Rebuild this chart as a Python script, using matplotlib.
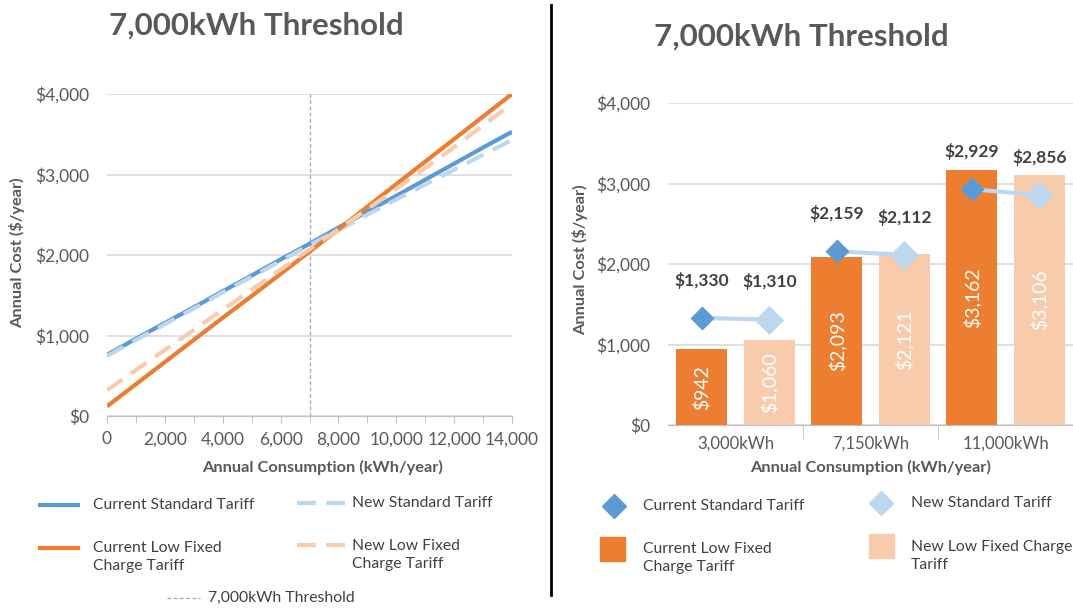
import numpy as np
import matplotlib.pyplot as plt
from matplotlib.lines import Line2D
from matplotlib.patches import Rectangle
from matplotlib.ticker import FuncFormatter, MultipleLocator

plt.rcParams['font.family'] = ['Lato', 'DejaVu Sans']

# left chart: annual cost vs consumption
kwh = [0, 1000, 2000, 3000, 4000, 5000, 6000, 7000, 8000, 9000, 10000, 11000, 12000, 13000, 14000]
current_std = [760, 960, 1155, 1350, 1550, 1745, 1945, 2140, 2340, 2540, 2735, 2935, 3135, 3335, 3530]
new_std = [745, 945, 1140, 1335, 1535, 1730, 1925, 2125, 2310, 2500, 2690, 2875, 3060, 3245, 3430]
current_low = [120, 395, 670, 945, 1220, 1490, 1765, 2040, 2320, 2600, 2880, 3160, 3440, 3720, 4000]
new_low = [320, 570, 820, 1070, 1320, 1570, 1820, 2070, 2320, 2570, 2820, 3080, 3340, 3610, 3880]
threshold = 7000

# right chart: three consumption levels
levels = ['3,000kWh', '7,150kWh', '11,000kWh']
bar_current_low = [942, 2093, 3162]
bar_new_low = [1060, 2121, 3106]
pt_current_std = [1330, 2159, 2929]
pt_new_std = [1310, 2112, 2856]

c_blue = '#5B9BD5'
c_lblue = '#BDD7EE'
c_orange = '#ED7D31'
c_peach = '#F8CBAD'
c_grey = '#595959'
c_grid = '#D9D9D9'

W, H = 1073, 608
fig = plt.figure(figsize=(W / 100, H / 100), dpi=100)


def fx(px):
    return px / W


def fy(py):
    return 1 - py / H


money = FuncFormatter(lambda v, p: '${:,.0f}'.format(v))
tick_fs = 12.5
lab_fs = 11.8
title_fs = 22.5

# ---------------- left chart ----------------
ax1 = fig.add_axes([fx(107), fy(416), fx(512) - fx(107), fy(94) - fy(416)])
ax1.plot(kwh, current_std, color=c_blue, lw=3, solid_capstyle='butt')
ax1.plot(kwh, new_std, color=c_lblue, lw=3, dashes=(4.5, 2.5))
ax1.plot(kwh, current_low, color=c_orange, lw=3, solid_capstyle='butt')
ax1.plot(kwh, new_low, color=c_peach, lw=3, dashes=(4.5, 2.5))
ax1.axvline(threshold, color='#A6A6A6', lw=0.9, ls=(0, (3, 2)), zorder=1)
ax1.set_xlim(0, 14000)
ax1.set_ylim(0, 4000)
ax1.yaxis.set_major_locator(MultipleLocator(1000))
ax1.yaxis.set_major_formatter(money)
ax1.xaxis.set_major_locator(MultipleLocator(2000))
ax1.xaxis.set_minor_locator(MultipleLocator(1000))
ax1.xaxis.set_major_formatter(FuncFormatter(lambda v, p: '{:,.0f}'.format(v)))
ax1.grid(axis='y', color=c_grid, lw=1.2)
ax1.set_axisbelow(True)
for s in ['top', 'right', 'left']:
    ax1.spines[s].set_visible(False)
ax1.spines['bottom'].set_color('#BFBFBF')
ax1.tick_params(axis='y', length=0, labelsize=tick_fs, labelcolor=c_grey, pad=13)
ax1.tick_params(axis='x', which='both', direction='out', length=5, color='#BFBFBF',
                labelsize=tick_fs, labelcolor=c_grey, pad=6)

fig.text(fx(256), fy(26), '7,000kWh Threshold', ha='center', va='center',
         fontsize=title_fs, fontweight='bold', color=c_grey)
fig.text(fx(323), fy(467), 'Annual Consumption (kWh/year)', ha='center', va='center',
         fontsize=lab_fs, fontweight='bold', color=c_grey)
fig.text(fx(17), fy(253), 'Annual Cost ($/year)', ha='center', va='center',
         rotation=90, fontsize=lab_fs, fontweight='bold', color=c_grey)

# left legend
leg_fs = 11.3
leg_col = '#404040'
fig.add_artist(Line2D([fx(40), fx(78)], [fy(505), fy(505)], color=c_blue, lw=3))
fig.text(fx(93), fy(505), 'Current Standard Tariff', va='center', fontsize=leg_fs, color=leg_col)
fig.add_artist(Line2D([fx(40), fx(78)], [fy(548), fy(548)], color=c_orange, lw=3))
fig.text(fx(93), fy(557), 'Current Low Fixed\nCharge Tariff', va='center', fontsize=leg_fs,
         color=leg_col, linespacing=1.35)
fig.add_artist(Line2D([fx(297), fx(345)], [fy(503), fy(503)], color=c_lblue, lw=3, dashes=(4.5, 2.5)))
fig.text(fx(352), fy(503), 'New Standard Tariff', va='center', fontsize=leg_fs, color=leg_col)
fig.add_artist(Line2D([fx(297), fx(345)], [fy(545), fy(545)], color=c_peach, lw=3, dashes=(4.5, 2.5)))
fig.text(fx(352), fy(555), 'New Low Fixed\nCharge Tariff', va='center', fontsize=leg_fs,
         color=leg_col, linespacing=1.35)
fig.add_artist(Line2D([fx(167), fx(200)], [fy(598), fy(598)], color='#A6A6A6', lw=0.9, ls=(0, (3, 2))))
fig.text(fx(208), fy(598), '7,000kWh Threshold', va='center', fontsize=leg_fs, color=leg_col)

# divider
fig.add_artist(Line2D([fx(551), fx(551)], [fy(5), fy(595)], color='black', lw=2))

# ---------------- right chart ----------------
ax2 = fig.add_axes([fx(668), fy(425), 1 - fx(668), fy(103) - fy(425)])
pos = np.arange(len(levels))
off = 0.25
bw = 0.38
b1 = ax2.bar(pos - off, bar_current_low, bw, color=c_orange, zorder=2)
b2 = ax2.bar(pos + off, bar_new_low, bw, color=c_peach, zorder=2)
for rects, vals in [(b1, bar_current_low), (b2, bar_new_low)]:
    for r, v in zip(rects, vals):
        ax2.text(r.get_x() + r.get_width() / 2, v / 2, '${:,}'.format(v), rotation=90,
                 ha='center', va='center', color='white', fontsize=14, zorder=4)

for i in range(len(levels)):
    ax2.plot([pos[i] - off, pos[i] + off], [pt_current_std[i], pt_new_std[i]],
             color=c_lblue, lw=3, zorder=3)
ax2.scatter(pos - off, pt_current_std, marker='D', s=150, color=c_blue, zorder=5, linewidths=0)
ax2.scatter(pos + off, pt_new_std, marker='D', s=220, color=c_lblue, zorder=5, linewidths=0)
for xs, vals in [(pos - off, pt_current_std), (pos + off, pt_new_std)]:
    for x, v in zip(xs, vals):
        ax2.annotate('${:,}'.format(v), (x, v), xytext=(0, 21), textcoords='offset points',
                     ha='center', va='bottom', fontsize=12.5, fontweight='bold',
                     color='#404040', zorder=6, annotation_clip=False)

ax2.set_xlim(-0.5, 2.5)
ax2.set_ylim(0, 4000)
ax2.yaxis.set_major_locator(MultipleLocator(1000))
ax2.yaxis.set_major_formatter(money)
ax2.set_xticks(pos)
ax2.set_xticklabels(levels)
ax2.set_xticks([0.5, 1.5], minor=True)
ax2.grid(axis='y', color=c_grid, lw=1.2)
ax2.set_axisbelow(True)
for s in ['top', 'right', 'left']:
    ax2.spines[s].set_visible(False)
ax2.spines['bottom'].set_color('#BFBFBF')
ax2.tick_params(axis='y', length=0, labelsize=tick_fs, labelcolor=c_grey, pad=13)
ax2.tick_params(axis='x', which='major', length=0, labelsize=12, labelcolor=c_grey, pad=8)
ax2.tick_params(axis='x', which='minor', length=10, color='#BFBFBF', direction='out')

fig.text(fx(801), fy(37), '7,000kWh Threshold', ha='center', va='center',
         fontsize=title_fs, fontweight='bold', color=c_grey)
fig.text(fx(871), fy(467), 'Annual Consumption (kWh/year)', ha='center', va='center',
         fontsize=lab_fs, fontweight='bold', color=c_grey)
fig.text(fx(580), fy(260), 'Annual Cost ($/year)', ha='center', va='center',
         rotation=90, fontsize=lab_fs, fontweight='bold', color=c_grey)

# right legend
fig.add_artist(Line2D([fx(614)], [fy(506)], marker='D', ms=12, color=c_blue, lw=0))
fig.text(fx(643), fy(506), 'Current Standard Tariff', va='center', fontsize=leg_fs, color=leg_col)
fig.add_artist(Line2D([fx(881)], [fy(503)], marker='D', ms=12, color=c_lblue, lw=0))
fig.text(fx(911), fy(503), 'New Standard Tariff', va='center', fontsize=leg_fs, color=leg_col)
fig.add_artist(Rectangle((fx(600), fy(561)), fx(25), fy(537) - fy(561), color=c_orange))
fig.text(fx(643), fy(558), 'Current Low Fixed\nCharge Tariff', va='center', fontsize=leg_fs,
         color=leg_col, linespacing=1.35)
fig.add_artist(Rectangle((fx(869), fy(558)), fx(25), fy(534) - fy(558), color=c_peach))
fig.text(fx(911), fy(556), 'New Low Fixed Charge\nTariff', va='center', fontsize=leg_fs,
         color=leg_col, linespacing=1.35)

fig.savefig('out.png', dpi=100)
